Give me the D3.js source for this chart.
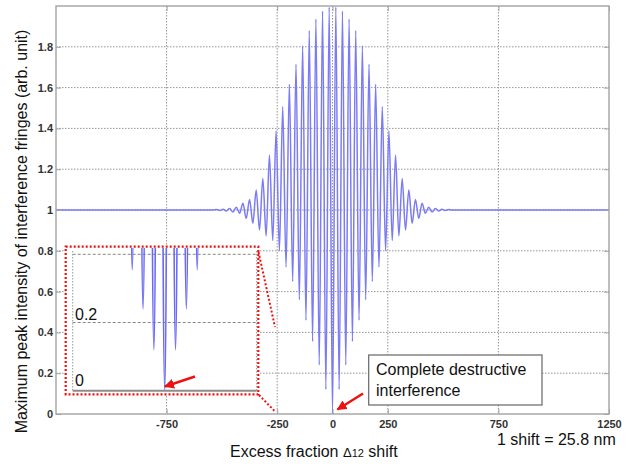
<!DOCTYPE html>
<html>
<head>
<meta charset="utf-8">
<script src="https://cdn.jsdelivr.net/npm/d3@7/dist/d3.min.js"></script>
<style>
  html, body { margin: 0; padding: 0; background: #fff; }
  svg { display: block; }
  text { font-family: "Liberation Sans", Arial, Helvetica, sans-serif; }
</style>
</head>
<body>
<svg id="chart" width="638" height="464"></svg>
<script>
// ---- data ----
const xTicks = [-750, -250, 0, 250, 750, 1250];
const yTicks = [0, 0.2, 0.4, 0.6, 0.8, 1, 1.2, 1.4, 1.6, 1.8];
const insetYTicks = [0, 0.2, 0.4];

// fringe extrema: alternating troughs / peaks (shift units, arb. intensity)
const fringeShift = [
  -1250, -540, -525, -510, -495, -480, -465, -450, -435, -420, -405, -390, -375, -360,
  -345, -330, -315, -300, -285, -270, -255, -240, -225, -210, -195, -180, -165, -150,
  -135, -120, -105, -90, -75, -60, -45, -30, -15, 0,
  15, 30, 45, 60, 75, 90, 105, 120, 135, 150, 165, 180, 195, 210, 225, 240, 255, 270,
  285, 300, 315, 330, 345, 360, 375, 390, 405, 420, 435, 450, 465, 480, 495, 510, 525,
  540, 1250
];
const fringeValue = [
  1, 1, 1.002, 0.998, 1.004, 0.995, 1.007, 0.99, 1.013, 0.984, 1.033, 0.959, 1.052, 0.935,
  1.098, 0.902, 1.155, 0.873, 1.27, 0.85, 1.387, 0.80, 1.506, 0.72, 1.616, 0.65, 1.714, 0.56,
  1.805, 0.46, 1.88, 0.355, 1.936, 0.24, 1.975, 0.12, 1.995, 0,
  1.995, 0.12, 1.975, 0.24, 1.936, 0.355, 1.88, 0.46, 1.805, 0.56, 1.714, 0.65, 1.616, 0.72,
  1.506, 0.80, 1.387, 0.85, 1.27, 0.873, 1.155, 0.902, 1.098, 0.935, 1.052, 0.959, 1.033,
  0.984, 1.013, 0.99, 1.007, 0.995, 1.004, 0.998, 1.002,
  1, 1
];

const xLabelMain = "Excess fraction ";
const xLabelDelta = "\u0394";
const xLabelSub = "12";
const xLabelEnd = " shift";
const yLabel = "Maximum peak intensity of interference fringes (arb. unit)";
const noteLines = ["Complete destructive", "interference"];
const scaleNote = "1 shift = 25.8 nm";

const data = fringeShift.map((s, i) => ({ s: s, v: fringeValue[i] }));

// ---- layout ----
const svg = d3.select("#chart");
const L = 56, R = 609, T = 6, B = 414;
const x = d3.scaleLinear().domain([-1250, 1250]).range([L, R]);
const y = d3.scaleLinear().domain([0, 2]).range([B, T]);

const lineColor = "#7b7bf4";
const gridColor = "#8a8a8a";
const frameColor = "#a3a3a3";

// grid
const grid = svg.append("g");
grid.selectAll("line.gx").data(xTicks.filter(d => d !== 1250)).join("line")
  .attr("x1", d => x(d)).attr("x2", d => x(d)).attr("y1", T).attr("y2", B)
  .attr("stroke", gridColor).attr("stroke-width", 0.9).attr("stroke-dasharray", "1.5,1.5");
grid.selectAll("line.gy").data(yTicks.filter(d => d !== 0)).join("line")
  .attr("x1", L).attr("x2", R).attr("y1", d => y(d)).attr("y2", d => y(d))
  .attr("stroke", gridColor).attr("stroke-width", 0.9).attr("stroke-dasharray", "1.5,1.5");

// curve
const line = d3.line().x(d => x(d.s)).y(d => y(d.v)).curve(d3.curveMonotoneX);
svg.append("defs").append("clipPath").attr("id", "mainClip")
  .append("rect").attr("x", L).attr("y", T).attr("width", R - L).attr("height", B - T);
svg.append("path").datum(data).attr("d", line)
  .attr("fill", "none").attr("stroke", lineColor).attr("stroke-width", 1.5)
  .attr("stroke-linejoin", "round")
  .attr("clip-path", "url(#mainClip)");

// axes
function styleAxis(g) {
  g.select(".domain").remove();
  g.selectAll(".tick line").attr("stroke", frameColor).attr("stroke-width", 1);
  g.selectAll(".tick text").attr("font-size", 11).attr("font-weight", "bold").attr("fill", "#333")
    .attr("font-family", "'Liberation Sans', Arial, sans-serif");
}
svg.append("g").attr("transform", `translate(0,${B})`)
  .call(d3.axisBottom(x).tickValues(xTicks).tickSize(-5).tickPadding(6).tickFormat(d => String(d)))
  .call(styleAxis);
svg.append("g").attr("transform", `translate(0,${T})`)
  .call(d3.axisTop(x).tickValues(xTicks).tickSize(-5).tickFormat(""))
  .call(styleAxis);
svg.append("g").attr("transform", `translate(${L},0)`)
  .call(d3.axisLeft(y).tickValues(yTicks).tickSize(-5).tickPadding(3).tickFormat(d => String(d)))
  .call(styleAxis);
svg.append("g").attr("transform", `translate(${R},0)`)
  .call(d3.axisRight(y).tickValues(yTicks).tickSize(-5).tickFormat(""))
  .call(styleAxis);

svg.append("rect").attr("x", L).attr("y", T).attr("width", R - L).attr("height", B - T)
  .attr("fill", "none").attr("stroke", frameColor).attr("stroke-width", 1.4);

// axis labels
svg.append("text").attr("transform", `translate(27,${(453 + 10) / 2}) rotate(-90)`)
  .attr("text-anchor", "middle").attr("font-size", 16).attr("fill", "#111").text(yLabel);

const xl = svg.append("text").attr("x", 230).attr("y", 457).attr("font-size", 16).attr("fill", "#111");
xl.append("tspan").text(xLabelMain);
xl.append("tspan").attr("font-size", 13).text(xLabelDelta);
xl.append("tspan").attr("font-size", 11).text(xLabelSub);
xl.append("tspan").text(xLabelEnd);

svg.append("text").attr("x", 497).attr("y", 445).attr("font-size", 16).attr("fill", "#111").text(scaleNote);

// ---- inset ----
const iL = 72.7, iR = 256.7, iB = 390.7;
const xIn = d3.scaleLinear().domain([-255, 255]).range([iL, iR]);
const yIn = d3.scaleLinear().domain([0, 0.4]).range([iB, 254.3]);
const red = "#ee1111";

svg.append("rect").attr("x", 65.7).attr("y", 246.7).attr("width", 258.3 - 65.7).attr("height", 394.3 - 246.7)
  .attr("fill", "#fff").attr("stroke", red).attr("stroke-width", 2.2).attr("stroke-dasharray", "2,2");

const inset = svg.append("g");
inset.selectAll("line.ig").data(insetYTicks.filter(d => d !== 0)).join("line")
  .attr("x1", iL).attr("x2", iR).attr("y1", d => yIn(d)).attr("y2", d => yIn(d))
  .attr("stroke", "#888").attr("stroke-width", 1).attr("stroke-dasharray", "3,2");
inset.append("line").attr("x1", iL).attr("x2", iL).attr("y1", 251).attr("y2", iB)
  .attr("stroke", "#999").attr("stroke-width", 1).attr("stroke-dasharray", "1.5,1.5");
inset.append("line").attr("x1", iR).attr("x2", iR).attr("y1", 251).attr("y2", iB)
  .attr("stroke", "#999").attr("stroke-width", 1).attr("stroke-dasharray", "1.5,1.5");

svg.select("defs").append("clipPath").attr("id", "insetClip")
  .append("rect").attr("x", iL).attr("y", 248).attr("width", iR - iL).attr("height", iB - 248);
const lineIn = d3.line().x(d => xIn(d.s)).y(d => yIn(d.v)).curve(d3.curveMonotoneX);
inset.append("path").datum(data).attr("d", lineIn)
  .attr("fill", "none").attr("stroke", "#6a6af5").attr("stroke-width", 1.7)
  .attr("stroke-linejoin", "round")
  .attr("clip-path", "url(#insetClip)");

inset.append("line").attr("x1", iL).attr("x2", iR).attr("y1", iB).attr("y2", iB)
  .attr("stroke", "#8c8c8c").attr("stroke-width", 2);
inset.append("text").attr("x", 75).attr("y", 319.5).attr("font-size", 16).attr("fill", "#111").text("0.2");
inset.append("text").attr("x", 75).attr("y", 386).attr("font-size", 16).attr("fill", "#111").text("0");

// connectors
svg.append("line").attr("x1", 258.5).attr("y1", 252).attr("x2", 275).attr("y2", 327)
  .attr("stroke", red).attr("stroke-width", 2).attr("stroke-dasharray", "2,2");
svg.append("line").attr("x1", 259).attr("y1", 395).attr("x2", 275.5).attr("y2", 412)
  .attr("stroke", red).attr("stroke-width", 2).attr("stroke-dasharray", "2,2");

// arrows
svg.select("defs").append("marker").attr("id", "arrowHead")
  .attr("viewBox", "0 0 10 10").attr("refX", 9).attr("refY", 5)
  .attr("markerWidth", 4).attr("markerHeight", 4).attr("orient", "auto")
  .append("path").attr("d", "M0,0 L10,5 L0,10 Z").attr("fill", red);
svg.append("line").attr("x1", 195).attr("y1", 376.5).attr("x2", 165).attr("y2", 386.5)
  .attr("stroke", red).attr("stroke-width", 2.5).attr("marker-end", "url(#arrowHead)");
svg.append("line").attr("x1", 363).attr("y1", 393.5).attr("x2", 337.5).attr("y2", 409.5)
  .attr("stroke", red).attr("stroke-width", 2.5).attr("marker-end", "url(#arrowHead)");

// annotation box
svg.append("rect").attr("x", 368.7).attr("y", 355).attr("width", 173.3).attr("height", 50)
  .attr("fill", "#fff").attr("stroke", "#666").attr("stroke-width", 1.2);
svg.selectAll("text.note").data(noteLines).join("text")
  .attr("x", 376).attr("y", (d, i) => 375 + i * 21).attr("font-size", 16).attr("fill", "#111").text(d => d);
</script>
</body>
</html>
